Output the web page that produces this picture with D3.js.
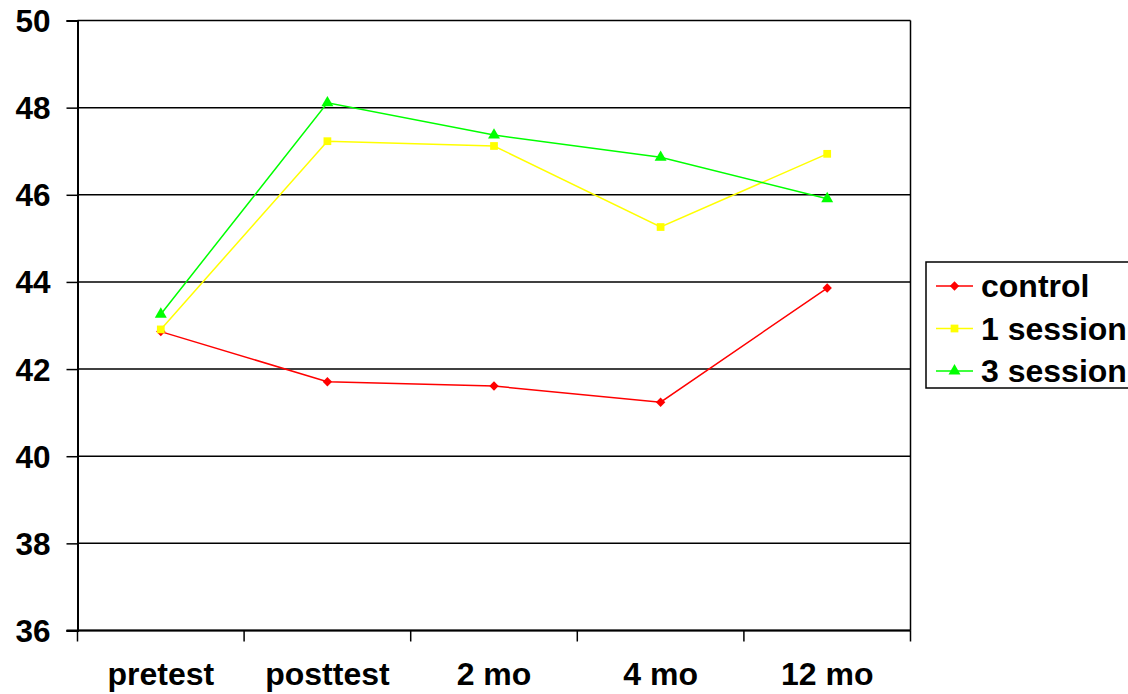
<!DOCTYPE html>
<html><head><meta charset="utf-8">
<script src="https://cdn.jsdelivr.net/npm/d3@7"></script>
<style>body{margin:0;background:#fff}svg{display:block}text{font-family:"Liberation Sans",Arial,sans-serif;font-weight:bold;fill:#000}</style>
</head><body><svg id="c" width="1128" height="694"></svg>
<script>
const categories = ["pretest","posttest","2 mo","4 mo","12 mo"];
const control = [42.86, 41.71, 41.61, 41.24, 43.86];
const oneSession = [42.91, 47.23, 47.12, 45.26, 46.94];
const threeSession = [43.26, 48.11, 47.37, 46.86, 45.91];
const yTicks = [36,38,40,42,44,46,48,50];
const seriesNames = ["control","1 session","3 session"];
const seriesColors = ["#ff0000","#ffff00","#00ff00"];
const seriesValues = [control, oneSession, threeSession];

const svg = d3.select("#c");
const L=77.5, R=910.5, T=20.5, B=630.5;
const x = d3.scaleBand().domain(categories).range([L,R]);
const y = d3.scaleLinear().domain([36,50]).range([B,T]);

function marker(sel, i){
  if(i===0) sel.attr("d",d3.symbol().type(d3.symbolSquare).size(44)).attr("transform-extra","rotate(45)");
  else if(i===1) sel.attr("d",d3.symbol().type(d3.symbolSquare).size(60));
  else sel.attr("d",d3.symbol().type(d3.symbolTriangle).size(62));
}
function tr(i,cxv,cyv){ return `translate(${cxv},${cyv})` + (i===0?" rotate(45)":""); }

// gridlines
svg.append("g").selectAll("line").data(yTicks).join("line")
  .attr("x1",L).attr("x2",R).attr("y1",d=>y(d)).attr("y2",d=>y(d))
  .attr("stroke","#000").attr("stroke-width",1.5);
svg.append("line").attr("x1",R).attr("x2",R).attr("y1",T).attr("y2",B).attr("stroke","#000").attr("stroke-width",1.5);

// y axis
const ya = svg.append("g").attr("transform",`translate(${L},0)`)
  .call(d3.axisLeft(y).tickValues(yTicks).tickSize(11).tickPadding(16).tickFormat(d3.format("d")));
ya.select(".domain").attr("stroke","#000").attr("stroke-width",2);
ya.selectAll(".tick line").attr("stroke","#000").attr("stroke-width",1.5);
ya.selectAll("text").style("font-size","31.5px").style("font-family","Liberation Sans, Arial, sans-serif").style("font-weight","bold").attr("fill","#000").attr("dy","0.35em");

// x axis
const xa = svg.append("g").attr("transform",`translate(0,${B})`)
  .call(d3.axisBottom(x).tickSize(0).tickPadding(0));
xa.select(".domain").remove();
xa.append("line").attr("x1",L-11).attr("x2",R).attr("y1",0).attr("y2",0).attr("stroke","#000").attr("stroke-width",2);
xa.selectAll(".tick text").style("font-size","32px").style("font-family","Liberation Sans, Arial, sans-serif").style("font-weight","bold").attr("fill","#000").attr("y",54).attr("dy",0);
const bounds = categories.map(c=>x(c)).concat([x(categories[categories.length-1])+x.bandwidth()]);
svg.append("g").selectAll("line").data(bounds).join("line")
  .attr("x1",d=>d).attr("x2",d=>d).attr("y1",B).attr("y2",B+11)
  .attr("stroke","#000").attr("stroke-width",1.5);

const cx = c => x(c)+x.bandwidth()/2;
const line = d3.line().x((d,i)=>cx(categories[i])).y(d=>y(d));
seriesValues.forEach((vals,si)=>{
  svg.append("path").datum(vals).attr("d",line).attr("fill","none")
    .attr("stroke",seriesColors[si]).attr("stroke-width",1.5);
  svg.append("g").selectAll("path").data(vals).join("path")
    .call(marker, si)
    .attr("transform",(d,i)=>tr(si,cx(categories[i]),y(d)))
    .attr("fill",seriesColors[si]);
});

// legend
const lg = svg.append("g");
lg.append("rect").attr("x",926).attr("y",262).attr("width",210).attr("height",126)
  .attr("fill","#fff").attr("stroke","#000").attr("stroke-width",1.5);
seriesNames.forEach((n,i)=>{
  const yy = 286 + i*42.5;
  lg.append("line").attr("x1",936).attr("x2",973).attr("y1",yy).attr("y2",yy)
    .attr("stroke",seriesColors[i]).attr("stroke-width",1.5);
  lg.append("path").call(marker,i).attr("transform",tr(i,954.5,yy)).attr("fill",seriesColors[i]);
  lg.append("text").attr("x",981).attr("y",yy).attr("dy","0.35em")
    .style("font-size","32px").text(n);
});
</script></body></html>
